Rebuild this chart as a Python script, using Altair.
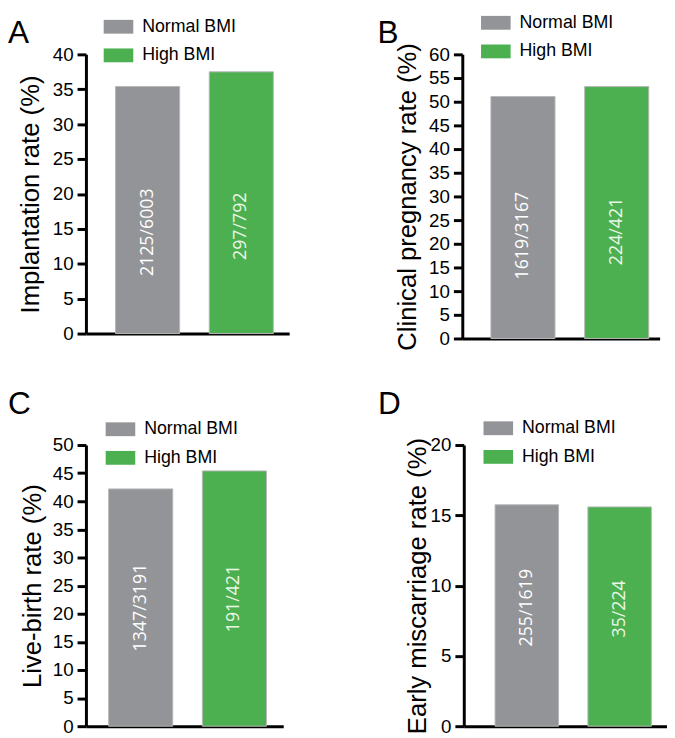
import altair as alt
import pandas as pd

groups = ["Normal BMI", "High BMI"]

implantation = [35.4, 37.5]
implantation_labels = ["2125/6003", "297/792"]
pregnancy = [51.1, 53.2]
pregnancy_labels = ["1619/3167", "224/421"]
livebirth = [42.2, 45.4]
livebirth_labels = ["1347/3191", "191/421"]
miscarriage = [15.75, 15.6]
miscarriage_labels = ["255/1619", "35/224"]

GRAY = "#939497"
GREEN = "#4cb050"
FONT = "Liberation Sans"
SYMBOL = "M-1.5,-0.7H1.5V0.7H-1.5Z"


def panel(letter, title, values, labels, ymax, width, height, pad_outer, align,
          text_factor, legend_x, legend_y, title_dx, title_offset, title_pad):
    df = pd.DataFrame({"group": groups, "rate": values, "label": labels})
    xenc = alt.X(
        "group:N", sort=groups,
        scale=alt.Scale(paddingInner=0.3158, paddingOuter=pad_outer, align=align),
        axis=alt.Axis(labels=False, ticks=False, title=None, domainWidth=3,
                      domainColor="black"),
    )
    yaxis = alt.Axis(
        values=list(range(0, ymax + 1, 5)), title=title, grid=False,
        labelFont=FONT, labelFontSize=19, labelColor="black", labelPadding=4,
        tickSize=9, tickWidth=3, tickColor="black",
        domainWidth=3, domainColor="black",
        titleFont=FONT, titleFontSize=26, titleFontWeight="normal",
        titleColor="black", titlePadding=title_pad,
    )
    yscale = alt.Scale(domain=[0, ymax])
    base = alt.Chart(df).encode(x=xenc)
    bars = base.mark_bar(stroke="#b8b8b8", strokeWidth=1).encode(
        y=alt.Y("rate:Q", scale=yscale, axis=yaxis),
        color=alt.Color(
            "group:N", sort=groups,
            scale=alt.Scale(domain=groups, range=[GRAY, GREEN]),
            legend=alt.Legend(
                orient="none", legendX=legend_x, legendY=legend_y, title=None,
                symbolType=SYMBOL, symbolSize=400, symbolStrokeWidth=0,
                symbolOpacity=1, labelFont=FONT, labelFontSize=18,
                labelColor="black", labelOffset=14, rowPadding=10, padding=0,
            ),
        ),
    )
    text = base.transform_calculate(pos=f"datum.rate * {text_factor}").mark_text(
        angle=270, font="Open Sans", fontSize=18, align="center", baseline="middle"
    ).encode(
        y=alt.Y("pos:Q", scale=yscale, axis=yaxis),
        text="label:N",
        color=alt.condition("datum.group == 'High BMI'", alt.value("#eaf7e6"),
                            alt.value("white")),
    )
    return alt.layer(bars, text).properties(
        width=width, height=height,
        title=alt.TitleParams(letter, anchor="start", frame="group", fontSize=32,
                              font=FONT, fontWeight="normal", color="black",
                              baseline="alphabetic",
                              dx=title_dx, offset=title_offset),
    )


pA = panel("A", "Implantation rate (%)", implantation, implantation_labels, 40,
           206, 283, 0.242, 0.652, 0.41, 23, -38, -79, -58, 9)
pB = panel("B", "Clinical pregnancy rate (%)", pregnancy, pregnancy_labels, 60,
           200, 288, 0.2105, 0.725, 0.425, 24, -42, -86, -62, 8)
pC = panel("C", "Live-birth rate (%)", livebirth, livebirth_labels, 50,
           200, 285, 0.2105, 0.575, 0.5, 25, -26, -79, -27, 7)
pD = panel("D", "Early miscarriage rate (%)", miscarriage, miscarriage_labels, 20,
           206, 285, 0.2526, 0.667, 0.535, 25, -27, -87, -28, 0)

row1 = alt.hconcat(pA, pB, spacing=89.5).resolve_scale(
    color="independent").resolve_legend(color="independent")
row2 = alt.hconcat(pC, pD, spacing=96).resolve_scale(
    color="independent").resolve_legend(color="independent")

chart = alt.vconcat(row1, row2, spacing=38).resolve_scale(
    color="independent"
).resolve_legend(color="independent").properties(
    padding=0
).configure_view(stroke=None)

chart.save("out.html", embed_options={"renderer": "svg", "actions": False})
